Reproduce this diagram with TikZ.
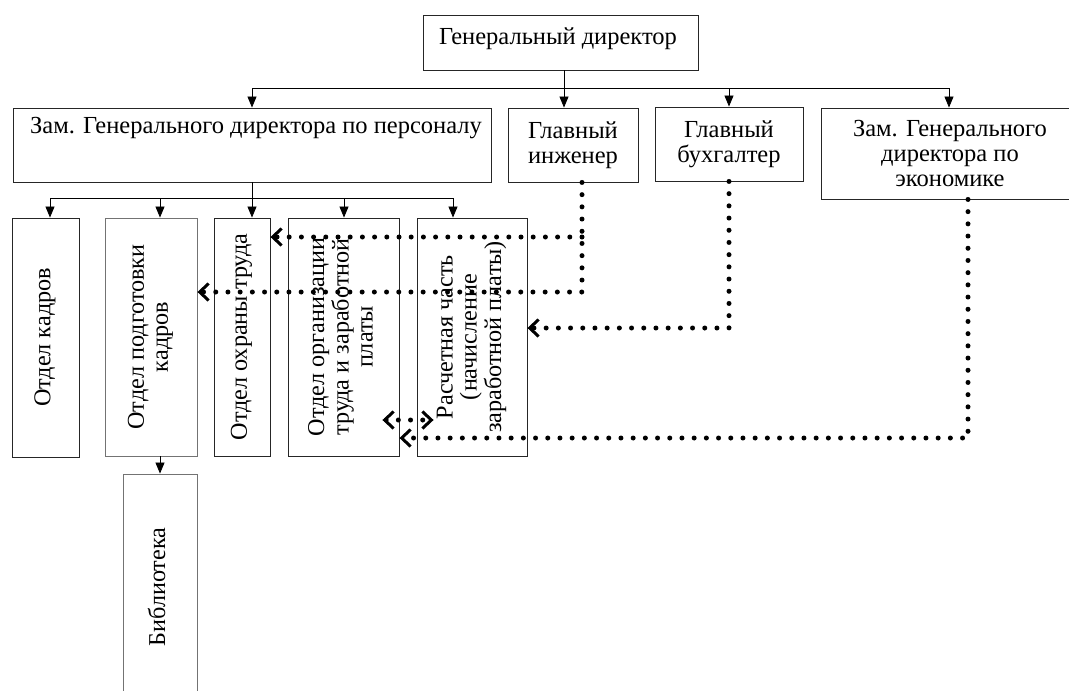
\documentclass[tikz,border=0pt]{standalone}
\usepackage{fontspec}
\setmainfont{Liberation Serif}
\usepackage{graphicx}
\usetikzlibrary{arrows.meta,calc}
\newcommand\myfs{\fontsize{24.5}{25}\selectfont}
\newcommand\myvfs{\fontsize{24.2}{24}\selectfont}
\newcommand\vtext[1]{\rotatebox{90}{\myvfs\begin{tabular}{@{}c@{}}#1\end{tabular}}}
\begin{document}
\begin{tikzpicture}[x=1pt,y=-1pt,
  box/.style={draw=black!85, line width=0.9pt, inner sep=0pt, font=\myfs, align=center},
  lbox/.style={box, draw=black!55},
  tarr/.style={line width=0.8pt, -{Triangle[length=11pt,width=9pt]}},
  tline/.style={line width=0.8pt},
  dots/.style={line width=5pt, line cap=round, dash pattern=on 0pt off 12.2pt},
  dtip/.tip={Straight Barb[length=9pt,width=17pt,line width=3pt]}
]
\useasboundingbox (0,0) rectangle (1069,691);
\fill[white] (0,0) rectangle (1069,691);

% upper level
\node[box, minimum width=275pt, minimum height=55pt] (T) at (560.5,42.5) {};
\node[font=\myfs, inner sep=0pt] (Tt) at (558,39) {Генеральный директор};
\node[box, minimum width=478pt, minimum height=74pt,
      label={[font=\myfs, anchor=center, yshift=-20pt, xshift=4pt]north:{Зам. Генерального директора по персоналу}}] (A) at (252,145) {};
\node[box, minimum width=130pt, minimum height=74pt] (B) at (573,145) {Главный\\инженер};
\node[box, minimum width=148pt, minimum height=74pt] (C) at (729,144) {Главный\\бухгалтер};
\node[box, minimum width=258pt, minimum height=91pt] (D) at (950,153.5) {Зам. Генерального\\директора по\\экономике};

% lower level
\node[box, minimum width=67pt, minimum height=239pt] (Kad) at (45.5,337.5) {\vtext{Отдел кадров}};
\node[lbox, minimum width=92pt, minimum height=238pt] (Pod) at (151,337) {\vtext{Отдел подготовки\\кадров}};
\node[box, minimum width=56pt, minimum height=238pt] (Ohr) at (242,337) {\vtext{Отдел охраны труда}};
\node[box, minimum width=111pt, minimum height=238pt] (Org) at (343.5,337) {\vtext{Отдел организации\\труда и заработной\\платы}};
\node[box, minimum width=110pt, minimum height=238pt] (Ras) at (472,337) {\vtext{Расчетная часть\\(начисление\\заработной платы)}};
\node[lbox, minimum width=74pt, minimum height=226pt] (Lib) at (160,587) {\vtext{Библиотека}};

% tree connectors, top
\coordinate (busL) at (252,88);
\coordinate (busM) at (564,88);
\coordinate (busR) at (949,88);
\draw[tline] (T.south -| busM) -- (busM);
\draw[tline] (busL) -- (busR);
\draw[tarr] (busL) -- (A.north);
\draw[tarr] (busM) -- (B.north -| busM);
\draw[tarr] (C.north |- busL) -- (C.north);
\draw[tarr] (busR) -- (D.north -| busR);

% tree connectors, lower
\coordinate (b2L) at (50,198);
\coordinate (b2M) at (252,198);
\coordinate (b2R) at (453,198);
\draw[tline] (A.south) -- (b2M);
\draw[tline] (b2L) -- (b2R);
\draw[tarr] (b2L) -- (Kad.north -| b2L);
\draw[tarr] (160,198) -- (Pod.north -| 160,0);
\draw[tarr] (b2M) -- (Ohr.north -| b2M);
\draw[tarr] (344,198) -- (Org.north -| 344,0);
\draw[tarr] (b2R) -- (Ras.north -| b2R);
\draw[tarr] (Pod.south -| Lib.north) -- (Lib.north);

% dotted connectors
\draw[dots, -dtip] ([xshift=9pt]B.south) |- (Pod.east |- 0,292);
\draw[dots, -dtip] ([xshift=9pt]B.south |- 0,237) -- (Ohr.east |- 0,237);
\draw[dots, -dtip] (C.south) |- (Ras.east |- 0,328);
\draw[dots, -dtip] ([xshift=18pt]D.south) |- (Org.east |- 0,438);
\draw[dots, dtip-dtip] ([xshift=-17pt]Org.east |- 0,420) -- ([xshift=17pt]Ras.west |- 0,420);
\end{tikzpicture}
\end{document}
